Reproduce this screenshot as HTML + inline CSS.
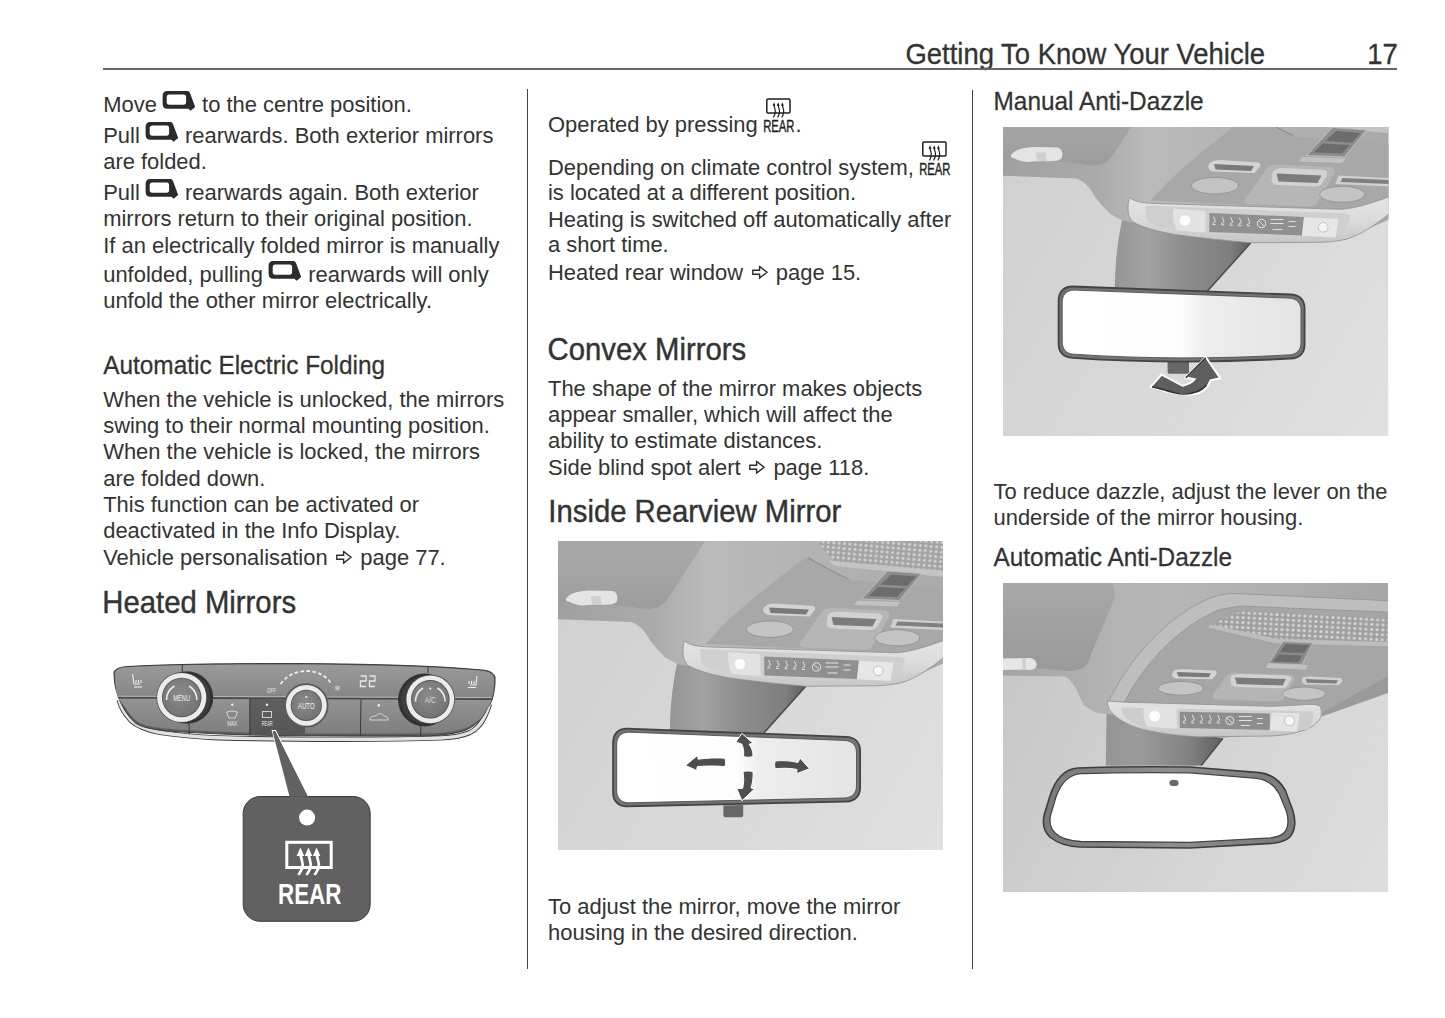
<!DOCTYPE html><html><head><meta charset="utf-8"><title>Getting To Know Your Vehicle</title><style>
*{margin:0;padding:0;box-sizing:border-box}
html,body{width:1445px;height:1018px;background:#fff;overflow:hidden}
body{position:relative;font-family:"Liberation Sans",sans-serif;color:#333333}
.ln{position:absolute;white-space:nowrap}
.ic{display:inline-block;vertical-align:baseline;position:relative;height:0}
.abs{position:absolute}
</style></head><body>
<div class="ln" style="left:905.5px;top:41.06px;font-size:27.45px;line-height:27.45px;transform:scaleY(1.045);transform-origin:0 22.44px;-webkit-text-stroke:0.3px #333333">Getting To Know Your Vehicle</div>
<div class="ln" style="left:1367.2px;top:41.06px;font-size:27.45px;line-height:27.45px;transform:scaleY(1.045);transform-origin:0 22.44px;-webkit-text-stroke:0.3px #333333">17</div>
<div class="abs" style="left:103px;top:67.9px;width:1294.3px;height:2px;background:#666"></div>
<div class="abs" style="left:527px;top:89px;width:1.2px;height:880px;background:#444"></div>
<div class="abs" style="left:972.2px;top:90px;width:1.2px;height:879px;background:#444"></div>
<div class="ln" style="left:103.2px;top:94.21px;font-size:21.95px;line-height:21.95px;transform:scaleY(1.035);transform-origin:0 17.79px">Move <span class="ic" style="width:33px"><svg style="position:absolute;left:-0.6px;bottom:0" width="35" height="21" viewBox="0 0 35 21"><path fill-rule="evenodd" fill="#2b2b2b" d="M5.4,0.6 H25.6 Q27.2,0.6 28,2.6 L33.2,16.2 L28.6,19.9 L26.4,17.8 H5.4 Q0.6,17.8 0.6,13 V5.4 Q0.6,0.6 5.4,0.6 Z M7.2,4.1 H21.6 Q24.1,4.1 24.1,6.6 V11.4 Q24.1,13.9 21.6,13.9 H7.2 Q4.7,13.9 4.7,11.4 V6.6 Q4.7,4.1 7.2,4.1 Z"/></svg></span> to the centre position.</div>
<div class="ln" style="left:103.2px;top:125.21px;font-size:21.95px;line-height:21.95px;transform:scaleY(1.035);transform-origin:0 17.79px">Pull <span class="ic" style="width:33px"><svg style="position:absolute;left:-0.6px;bottom:0" width="35" height="21" viewBox="0 0 35 21"><path fill-rule="evenodd" fill="#2b2b2b" d="M5.4,0.6 H25.6 Q27.2,0.6 28,2.6 L33.2,16.2 L28.6,19.9 L26.4,17.8 H5.4 Q0.6,17.8 0.6,13 V5.4 Q0.6,0.6 5.4,0.6 Z M7.2,4.1 H21.6 Q24.1,4.1 24.1,6.6 V11.4 Q24.1,13.9 21.6,13.9 H7.2 Q4.7,13.9 4.7,11.4 V6.6 Q4.7,4.1 7.2,4.1 Z"/></svg></span> rearwards. Both exterior mirrors</div>
<div class="ln" style="left:103.2px;top:151.21px;font-size:21.95px;line-height:21.95px;transform:scaleY(1.035);transform-origin:0 17.79px">are folded.</div>
<div class="ln" style="left:103.2px;top:181.71px;font-size:21.95px;line-height:21.95px;transform:scaleY(1.035);transform-origin:0 17.79px">Pull <span class="ic" style="width:33px"><svg style="position:absolute;left:-0.6px;bottom:0" width="35" height="21" viewBox="0 0 35 21"><path fill-rule="evenodd" fill="#2b2b2b" d="M5.4,0.6 H25.6 Q27.2,0.6 28,2.6 L33.2,16.2 L28.6,19.9 L26.4,17.8 H5.4 Q0.6,17.8 0.6,13 V5.4 Q0.6,0.6 5.4,0.6 Z M7.2,4.1 H21.6 Q24.1,4.1 24.1,6.6 V11.4 Q24.1,13.9 21.6,13.9 H7.2 Q4.7,13.9 4.7,11.4 V6.6 Q4.7,4.1 7.2,4.1 Z"/></svg></span> rearwards again. Both exterior</div>
<div class="ln" style="left:103.2px;top:208.41px;font-size:21.95px;line-height:21.95px;transform:scaleY(1.035);transform-origin:0 17.79px">mirrors return to their original position.</div>
<div class="ln" style="left:103.2px;top:234.71px;font-size:21.95px;line-height:21.95px;transform:scaleY(1.035);transform-origin:0 17.79px">If an electrically folded mirror is manually</div>
<div class="ln" style="left:103.2px;top:263.91px;font-size:21.95px;line-height:21.95px;transform:scaleY(1.035);transform-origin:0 17.79px">unfolded, pulling <span class="ic" style="width:33px"><svg style="position:absolute;left:-0.6px;bottom:0" width="35" height="21" viewBox="0 0 35 21"><path fill-rule="evenodd" fill="#2b2b2b" d="M5.4,0.6 H25.6 Q27.2,0.6 28,2.6 L33.2,16.2 L28.6,19.9 L26.4,17.8 H5.4 Q0.6,17.8 0.6,13 V5.4 Q0.6,0.6 5.4,0.6 Z M7.2,4.1 H21.6 Q24.1,4.1 24.1,6.6 V11.4 Q24.1,13.9 21.6,13.9 H7.2 Q4.7,13.9 4.7,11.4 V6.6 Q4.7,4.1 7.2,4.1 Z"/></svg></span> rearwards will only</div>
<div class="ln" style="left:103.2px;top:289.81px;font-size:21.95px;line-height:21.95px;transform:scaleY(1.035);transform-origin:0 17.79px">unfold the other mirror electrically.</div>
<div class="ln" style="left:103.2px;top:353.74px;font-size:24.4px;line-height:24.4px;transform:scaleY(1.03);transform-origin:0 19.86px;-webkit-text-stroke:0.25px #333333">Automatic Electric Folding</div>
<div class="ln" style="left:103.2px;top:388.81px;font-size:21.95px;line-height:21.95px;transform:scaleY(1.035);transform-origin:0 17.79px">When the vehicle is unlocked, the mirrors</div>
<div class="ln" style="left:103.2px;top:414.91px;font-size:21.95px;line-height:21.95px;transform:scaleY(1.035);transform-origin:0 17.79px">swing to their normal mounting position.</div>
<div class="ln" style="left:103.2px;top:441.21px;font-size:21.95px;line-height:21.95px;transform:scaleY(1.035);transform-origin:0 17.79px">When the vehicle is locked, the mirrors</div>
<div class="ln" style="left:103.2px;top:467.51px;font-size:21.95px;line-height:21.95px;transform:scaleY(1.035);transform-origin:0 17.79px">are folded down.</div>
<div class="ln" style="left:103.2px;top:494.01px;font-size:21.95px;line-height:21.95px;transform:scaleY(1.035);transform-origin:0 17.79px">This function can be activated or</div>
<div class="ln" style="left:103.2px;top:520.21px;font-size:21.95px;line-height:21.95px;transform:scaleY(1.035);transform-origin:0 17.79px">deactivated in the Info Display.</div>
<div class="ln" style="left:103.2px;top:546.71px;font-size:21.95px;line-height:21.95px;transform:scaleY(1.035);transform-origin:0 17.79px">Vehicle personalisation <span class="ic" style="width:20.5px"><svg style="position:absolute;left:2.6px;bottom:0.6px" width="17" height="13" viewBox="0 0 17 13"><path fill="none" stroke="#2b2b2b" stroke-width="1.4" stroke-linejoin="miter" d="M0.8,4.6 H7.6 V0.9 L15,6.5 L7.6,12.1 V8.4 H0.8 Z"/></svg></span> page 77.</div>
<div class="ln" style="left:102.3px;top:587.69px;font-size:29.3px;line-height:29.3px;transform:scaleY(1.055);transform-origin:0 24.01px;-webkit-text-stroke:0.4px #333333">Heated Mirrors</div>
<div class="ln" style="left:548.0px;top:113.61px;font-size:21.95px;line-height:21.95px;transform:scaleY(1.035);transform-origin:0 17.79px">Operated by pressing <span class="ic" style="width:31.6px"><svg style="position:absolute;left:-2.2px;bottom:-3px" width="40" height="36" viewBox="0 0 40 36"><rect x="4.8" y="1.1" width="23.2" height="13.5" rx="1.2" fill="none" stroke="#1e1e1e" stroke-width="1.5"/><g fill="none" stroke="#1e1e1e" stroke-width="1.2" stroke-linecap="round"><path d="M12,6.5 C12,9.5 13.8,11 13.3,14 C13,16 12.2,17.5 11.6,18.5"/><path d="M16.2,6.5 C16.2,9.5 18,11 17.5,14 C17.2,16 16.4,17.5 15.8,18.5"/><path d="M20.4,6.5 C20.4,9.5 22.2,11 21.7,14 C21.4,16 20.6,17.5 20,18.5"/></g><g fill="#1e1e1e"><path d="M10.6,7.6 L12,4.2 L13.4,7.6 Z"/><path d="M14.8,7.6 L16.2,4.2 L17.6,7.6 Z"/><path d="M19,7.6 L20.4,4.2 L21.8,7.6 Z"/></g><text x="1.2" y="33" font-family="Liberation Sans" font-size="15.4" fill="#1e1e1e" stroke="#1e1e1e" stroke-width="0.35" textLength="31.3" lengthAdjust="spacingAndGlyphs">REAR</text></svg></span>.</div>
<div class="ln" style="left:548.0px;top:156.91px;font-size:21.95px;line-height:21.95px;transform:scaleY(1.035);transform-origin:0 17.79px">Depending on climate control system, <span class="ic" style="width:40px"><svg style="position:absolute;left:-2.2px;bottom:-3px" width="40" height="36" viewBox="0 0 40 36"><rect x="4.8" y="1.1" width="23.2" height="13.5" rx="1.2" fill="none" stroke="#1e1e1e" stroke-width="1.5"/><g fill="none" stroke="#1e1e1e" stroke-width="1.2" stroke-linecap="round"><path d="M12,6.5 C12,9.5 13.8,11 13.3,14 C13,16 12.2,17.5 11.6,18.5"/><path d="M16.2,6.5 C16.2,9.5 18,11 17.5,14 C17.2,16 16.4,17.5 15.8,18.5"/><path d="M20.4,6.5 C20.4,9.5 22.2,11 21.7,14 C21.4,16 20.6,17.5 20,18.5"/></g><g fill="#1e1e1e"><path d="M10.6,7.6 L12,4.2 L13.4,7.6 Z"/><path d="M14.8,7.6 L16.2,4.2 L17.6,7.6 Z"/><path d="M19,7.6 L20.4,4.2 L21.8,7.6 Z"/></g><text x="1.2" y="33" font-family="Liberation Sans" font-size="15.4" fill="#1e1e1e" stroke="#1e1e1e" stroke-width="0.35" textLength="31.3" lengthAdjust="spacingAndGlyphs">REAR</text></svg></span></div>
<div class="ln" style="left:548.0px;top:182.11px;font-size:21.95px;line-height:21.95px;transform:scaleY(1.035);transform-origin:0 17.79px">is located at a different position.</div>
<div class="ln" style="left:548.0px;top:208.61px;font-size:21.95px;line-height:21.95px;transform:scaleY(1.035);transform-origin:0 17.79px">Heating is switched off automatically after</div>
<div class="ln" style="left:548.0px;top:234.41px;font-size:21.95px;line-height:21.95px;transform:scaleY(1.035);transform-origin:0 17.79px">a short time.</div>
<div class="ln" style="left:548.0px;top:261.51px;font-size:21.95px;line-height:21.95px;transform:scaleY(1.035);transform-origin:0 17.79px">Heated rear window <span class="ic" style="width:20.5px"><svg style="position:absolute;left:2.6px;bottom:0.6px" width="17" height="13" viewBox="0 0 17 13"><path fill="none" stroke="#2b2b2b" stroke-width="1.4" stroke-linejoin="miter" d="M0.8,4.6 H7.6 V0.9 L15,6.5 L7.6,12.1 V8.4 H0.8 Z"/></svg></span> page 15.</div>
<div class="ln" style="left:547.5px;top:334.89px;font-size:29.3px;line-height:29.3px;transform:scaleY(1.055);transform-origin:0 24.01px;-webkit-text-stroke:0.4px #333333">Convex Mirrors</div>
<div class="ln" style="left:548.0px;top:377.91px;font-size:21.95px;line-height:21.95px;transform:scaleY(1.035);transform-origin:0 17.79px">The shape of the mirror makes objects</div>
<div class="ln" style="left:548.0px;top:404.01px;font-size:21.95px;line-height:21.95px;transform:scaleY(1.035);transform-origin:0 17.79px">appear smaller, which will affect the</div>
<div class="ln" style="left:548.0px;top:429.91px;font-size:21.95px;line-height:21.95px;transform:scaleY(1.035);transform-origin:0 17.79px">ability to estimate distances.</div>
<div class="ln" style="left:548.0px;top:457.01px;font-size:21.95px;line-height:21.95px;transform:scaleY(1.035);transform-origin:0 17.79px">Side blind spot alert <span class="ic" style="width:20.5px"><svg style="position:absolute;left:2.6px;bottom:0.6px" width="17" height="13" viewBox="0 0 17 13"><path fill="none" stroke="#2b2b2b" stroke-width="1.4" stroke-linejoin="miter" d="M0.8,4.6 H7.6 V0.9 L15,6.5 L7.6,12.1 V8.4 H0.8 Z"/></svg></span> page 118.</div>
<div class="ln" style="left:548.3px;top:496.99px;font-size:29.3px;line-height:29.3px;transform:scaleY(1.055);transform-origin:0 24.01px;-webkit-text-stroke:0.4px #333333">Inside Rearview Mirror</div>
<div class="ln" style="left:548.0px;top:896.11px;font-size:21.95px;line-height:21.95px;transform:scaleY(1.035);transform-origin:0 17.79px">To adjust the mirror, move the mirror</div>
<div class="ln" style="left:548.0px;top:922.01px;font-size:21.95px;line-height:21.95px;transform:scaleY(1.035);transform-origin:0 17.79px">housing in the desired direction.</div>
<div class="ln" style="left:993.5px;top:89.94px;font-size:24.4px;line-height:24.4px;transform:scaleY(1.03);transform-origin:0 19.86px;-webkit-text-stroke:0.25px #333333">Manual Anti-Dazzle</div>
<div class="ln" style="left:993.5px;top:481.11px;font-size:21.95px;line-height:21.95px;transform:scaleY(1.035);transform-origin:0 17.79px">To reduce dazzle, adjust the lever on the</div>
<div class="ln" style="left:993.5px;top:507.01px;font-size:21.95px;line-height:21.95px;transform:scaleY(1.035);transform-origin:0 17.79px">underside of the mirror housing.</div>
<div class="ln" style="left:993.5px;top:545.94px;font-size:24.4px;line-height:24.4px;transform:scaleY(1.03);transform-origin:0 19.86px;-webkit-text-stroke:0.25px #333333">Automatic Anti-Dazzle</div>
<svg style="position:absolute;left:100px;top:650px" width="410" height="285" viewBox="100 650 410 285">
<defs>
<linearGradient id="cpTop" x1="0" y1="0" x2="0" y2="1"><stop offset="0" stop-color="#9a9a9a"/><stop offset="1" stop-color="#868686"/></linearGradient>
<linearGradient id="cpBot" x1="0" y1="0" x2="0" y2="1"><stop offset="0" stop-color="#949494"/><stop offset="1" stop-color="#7e7e7e"/></linearGradient>
<linearGradient id="cpRear" x1="0" y1="0" x2="0" y2="1"><stop offset="0" stop-color="#5e5e5e"/><stop offset="1" stop-color="#565656"/></linearGradient>
<radialGradient id="knobFace" cx="0.45" cy="0.4" r="0.6"><stop offset="0" stop-color="#8a8a8a"/><stop offset="1" stop-color="#747474"/></radialGradient>
</defs>
<!-- chrome trim -->
<path d="M119.2,700 C120.5,706 124,713 131,720.5 C137,726 145,729.5 160,732.5 C180,735.5 200,737 218,737.8 C260,739 300,739.3 340,739.3 C380,739.3 420,738.8 440,738 C455,737.5 463,735.5 470,732.5 C476,729.5 481,724 484.5,717 C486.5,713 488,709 489.6,704" fill="none" stroke="#3c3c3c" stroke-width="5.2"/>
<path d="M119.2,700 C120.5,706 124,713 131,720.5 C137,726 145,729.5 160,732.5 C180,735.5 200,737 218,737.8 C260,739 300,739.3 340,739.3 C380,739.3 420,738.8 440,738 C455,737.5 463,735.5 470,732.5 C476,729.5 481,724 484.5,717 C486.5,713 488,709 489.6,704" fill="none" stroke="#e2e2e2" stroke-width="3.4"/>
<!-- main body -->
<path d="M114,672 C115,669 120,667 128,666.5 C170,664 240,663.4 300,663.6 C380,664 440,666 484,670.2 C490,671 494,673 495,677 C495.5,685 494,693 492.3,699.3 C490.5,704 489,706 487.3,708 C484,716 481,719 478.4,721.4 C472,727.5 467,730 461.8,731.4 C450,734.5 440,735.4 428.6,735.8 C380,736.4 330,736 280,735.5 C240,735 220,734 201.3,733 C185,732.2 175,731.6 164,730.6 C150,729 142,727 136,723.5 C131,719.5 127,714 123.5,708 C121,703.5 119,699 117.5,694 C115,688 114,680 114,672 Z" fill="#5e5e5e" stroke="#3a3a3a" stroke-width="1"/>
<!-- top band -->
<path d="M115,673 C116,669 121,667.5 128,667 C170,664.8 240,664.3 300,664.5 C380,665 440,667 484,671 C489,672 493,674 494,678 C494.5,686 493.5,692 492,697.5 L117.5,696.5 C115.5,690 115,682 115,673 Z" fill="url(#cpTop)"/>
<!-- separation line -->
<path d="M117.5,696.2 L492,697.6" stroke="#b8b8b8" stroke-width="1"/>
<path d="M117.8,697.7 L491.8,699.1" stroke="#454545" stroke-width="1.1"/>
<!-- bottom band -->
<path d="M118.3,698.8 L491.6,700 C490,704.5 488.5,706.5 486.5,709 C483.5,716 480.5,719 477.5,721 C471,726 466,728.3 461,729.6 C450,732.3 440,733 428.6,733.3 C380,733.8 330,733.5 280,733 C240,732.5 220,731.6 201.3,730.7 C185,730 175,729.3 164,728.4 C151,727 143,725 137.5,721.8 C132.5,718 128.5,712.5 125,707 C122,703.5 120,701 118.3,698.8 Z" fill="url(#cpBot)"/>
<!-- REAR button dark -->
<path d="M249.8,699 L305,699.5 L305,735.5 L249.8,735.2 Z" fill="url(#cpRear)"/>
<path d="M249.8,699 L249.8,735.2" stroke="#333" stroke-width="0.9"/>
<!-- button separators -->
<path d="M361,699.5 L360.4,735.6" stroke="#3a3a3a" stroke-width="1"/>
<path d="M420.8,722 L420.6,735.8" stroke="#3a3a3a" stroke-width="1"/>
<path d="M189,722 L189.4,734.2" stroke="#3a3a3a" stroke-width="1"/>
<path d="M182.3,664 L182.3,672.5" stroke="#3a3a3a" stroke-width="1"/>
<path d="M428,666 L428,673" stroke="#3a3a3a" stroke-width="1"/>
<!-- MENU knob -->
<circle cx="187" cy="697.5" r="26.3" fill="#3e3e3e"/>
<circle cx="187" cy="697.5" r="24.5" fill="none" stroke="#222" stroke-width="2.2" stroke-dasharray="0.8 1.1"/>
<circle cx="181.7" cy="697.5" r="25.3" fill="#4a4a4a"/>
<circle cx="181.7" cy="697.5" r="24.6" fill="#ececec"/>
<circle cx="181.7" cy="697.5" r="19.8" fill="#555"/>
<circle cx="181.7" cy="697.5" r="18.9" fill="url(#knobFace)"/>
<path d="M166.5,700 A16,16 0 0 1 174.5,686" fill="none" stroke="#eee" stroke-width="1.6"/>
<path d="M188.9,686 A16,16 0 0 1 196.9,700" fill="none" stroke="#eee" stroke-width="1.6"/>
<text x="181.7" y="701" font-family="Liberation Sans" font-size="8.5" fill="#eee" text-anchor="middle" textLength="17" lengthAdjust="spacingAndGlyphs">MENU</text>
<!-- A/C knob -->
<circle cx="424.5" cy="700" r="26.5" fill="#3e3e3e"/>
<circle cx="424.5" cy="700" r="24.7" fill="none" stroke="#222" stroke-width="2.2" stroke-dasharray="0.8 1.1"/>
<circle cx="430.3" cy="699.3" r="24.6" fill="#4a4a4a"/>
<circle cx="430.3" cy="699.3" r="23.9" fill="#ececec"/>
<circle cx="430.3" cy="699.3" r="19.3" fill="#555"/>
<circle cx="430.3" cy="699.3" r="18.4" fill="url(#knobFace)"/>
<path d="M415.5,701.5 A15.5,15.5 0 0 1 423,688" fill="none" stroke="#eee" stroke-width="1.6"/>
<path d="M437.5,688 A15.5,15.5 0 0 1 445,701.5" fill="none" stroke="#eee" stroke-width="1.6"/>
<circle cx="430.3" cy="688.5" r="1.1" fill="#eee"/>
<text x="430.3" y="703" font-family="Liberation Sans" font-size="8.5" fill="#ddd" text-anchor="middle" textLength="11" lengthAdjust="spacingAndGlyphs">A/C</text>
<!-- AUTO knob -->
<circle cx="306.3" cy="705.4" r="22.2" fill="#5a5a5a"/>
<circle cx="306.3" cy="705.4" r="20.4" fill="#ececec"/>
<circle cx="306.3" cy="705.4" r="15.6" fill="#555"/>
<circle cx="306.3" cy="705.4" r="14.8" fill="url(#knobFace)"/>
<circle cx="306.3" cy="697" r="1.1" fill="#eee"/>
<text x="306.3" y="709" font-family="Liberation Sans" font-size="8.5" fill="#eee" text-anchor="middle" textLength="17" lengthAdjust="spacingAndGlyphs">AUTO</text>
<!-- dashed arc -->
<path d="M280.6,684 C288,674 298,671 306.7,671 C316,671 326,675 331.5,684" fill="none" stroke="#eee" stroke-width="1.8" stroke-dasharray="3.6 2.4"/>
<text x="271.5" y="692.5" font-family="Liberation Sans" font-size="7.5" fill="#e5e5e5" text-anchor="middle" textLength="9" lengthAdjust="spacingAndGlyphs">OFF</text>
<text x="337" y="691" font-family="Liberation Sans" font-size="8" fill="#ddd" text-anchor="middle">❄</text>
<!-- 22 -->
<g fill="none" stroke="#e8e8e8" stroke-width="1.3"><path d="M360.5,676 H366 V681 H360.5 V686.5 H366"/><path d="M369.5,676 H375 V681 H369.5 V686.5 H375"/></g>
<!-- seat icons -->
<g fill="none" stroke="#eee" stroke-width="1.1">
<path d="M132.5,674 L134,684 L140,684 M136,680 L136,683 M138.5,680 L138.5,683 M141,680 L141,683 M134,687 L142,687"/>
<path d="M477,676 L476,685 L470,685 M474,681 L474,684 M471.5,681 L471.5,684 M469,681 L469,684 M468,687.5 L476,687.5"/>
</g>
<!-- LEDs & small icons -->
<g fill="#eee">
<circle cx="232.2" cy="704.8" r="1.2"/>
<circle cx="267" cy="704.8" r="1.2"/>
<circle cx="378.8" cy="705.4" r="1.3"/>
</g>
<g fill="none" stroke="#ddd" stroke-width="0.9">
<path d="M226.5,712 Q232,710 237.5,712 L235,718 L229,718 Z"/>
<rect x="262.5" y="711.5" width="9" height="6"/>
<path d="M370,720 C370,716 374,716 376,716 C377,713 383,713 384,716 C387,716 388,718 388,720 Z"/>
</g>
<text x="232.2" y="726" font-family="Liberation Sans" font-size="6.5" fill="#e5e5e5" text-anchor="middle" textLength="10" lengthAdjust="spacingAndGlyphs">MAX</text>
<text x="267.2" y="726" font-family="Liberation Sans" font-size="6.5" fill="#e5e5e5" text-anchor="middle" textLength="11" lengthAdjust="spacingAndGlyphs">REAR</text>
<!-- pointer wedge -->
<path d="M272.3,730.5 L275.6,730.5 L308,797.5 L290,797.5 Z" fill="#5a5a5a" stroke="#fff" stroke-width="1.2"/>
<!-- callout box -->
<rect x="243.2" y="796.5" width="127" height="124.8" rx="17" fill="#616161" stroke="#3c3c3c" stroke-width="1"/>
<path d="M289.6,796.8 L272.6,731.5 L275.3,731.5 L308.1,796.8 Z" fill="#616161"/>
<circle cx="307.1" cy="817.6" r="8" fill="#fff"/>
<rect x="286.8" y="842.3" width="44.4" height="25.2" fill="none" stroke="#fff" stroke-width="3"/>
<g fill="none" stroke="#fff" stroke-width="2.7" stroke-linecap="butt">
<path d="M300.4,853 C300.4,858 303.5,862 302.5,867 C301.8,870.5 299.5,873 298.5,875"/>
<path d="M308.5,853 C308.5,858 311.6,862 310.6,867 C309.9,870.5 307.6,873 306.6,875"/>
<path d="M316.6,853 C316.6,858 319.7,862 318.7,867 C318,870.5 315.7,873 314.7,875"/>
</g>
<g fill="#fff">
<path d="M296.6,856 L300.4,847.5 L304.2,856 Z"/>
<path d="M304.7,856 L308.5,847.5 L312.3,856 Z"/>
<path d="M312.8,856 L316.6,847.5 L320.4,856 Z"/>
</g>
<text x="278" y="904.3" font-family="Liberation Sans" font-weight="bold" font-size="29.2" fill="#fff" textLength="63.3" lengthAdjust="spacingAndGlyphs">REAR</text>
</svg>

<svg style="position:absolute;left:557.5px;top:541px" width="385.5" height="309.0" viewBox="0 0 385.5 309.0"><defs><linearGradient id="cem" gradientUnits="userSpaceOnUse" x1="557" y1="0" x2="943" y2="0"><stop offset="0" stop-color="#a0a0a0"/><stop offset="0.24" stop-color="#aaaaaa"/><stop offset="0.38" stop-color="#bababa"/><stop offset="0.62" stop-color="#b4b4b4"/><stop offset="1" stop-color="#aaaaaa"/></linearGradient>
<linearGradient id="stm" gradientUnits="userSpaceOnUse" x1="668" y1="0" x2="806" y2="0"><stop offset="0" stop-color="#959595"/><stop offset="0.25" stop-color="#a2a2a2"/><stop offset="0.5" stop-color="#8e8e8e"/><stop offset="0.85" stop-color="#7e7e7e"/><stop offset="1" stop-color="#5e5e5e"/></linearGradient>
<linearGradient id="bzm" x1="0" y1="0" x2="0" y2="1"><stop offset="0" stop-color="#e4e4e4"/><stop offset="0.5" stop-color="#dcdcdc"/><stop offset="1" stop-color="#c6c6c6"/></linearGradient>
<linearGradient id="bgm" gradientUnits="userSpaceOnUse" x1="557" y1="620" x2="943" y2="850"><stop offset="0" stop-color="#d1d1d1"/><stop offset="0.5" stop-color="#d8d8d8"/><stop offset="1" stop-color="#e0e0e0"/></linearGradient>
<linearGradient id="glm" x1="0" y1="0" x2="1" y2="0"><stop offset="0" stop-color="#ffffff"/><stop offset="0.5" stop-color="#fdfdfd"/><stop offset="0.6" stop-color="#ededed"/><stop offset="1" stop-color="#e4e4e4"/></linearGradient>
<linearGradient id="vsm" gradientUnits="userSpaceOnUse" x1="0" y1="541" x2="0" y2="609"><stop offset="0" stop-color="#a8a8a8"/><stop offset="0.6" stop-color="#a3a3a3"/><stop offset="1" stop-color="#9c9c9c"/></linearGradient>
<pattern id="dtm" width="5.4" height="4.8" patternUnits="userSpaceOnUse" patternTransform="rotate(5)"><rect width="5.4" height="4.8" fill="#a4a4a4"/><circle cx="2.7" cy="2.4" r="1.5" fill="#d4d4d4"/></pattern><clipPath id="cpm"><rect x="0" y="0" width="385.5" height="309.0"/></clipPath></defs><g clip-path="url(#cpm)">
<g transform="translate(-557.5,-541.0)">
<rect x="557.5" y="541.0" width="385.5" height="309.0" fill="url(#bgm)"/>
<path d="M550,480 H950 V660 L900,683 L805.3,686.3 L757,740 L669.2,740 C669.5,712 671,690 676.6,664 C672,661 668,659.5 665,657.5 C659,652 654,646 649.3,640 C645,632 640,625 630.5,622 L550,619 Z" fill="url(#cem)"/>
<path d="M550,480 H730 L704.6,541 L668,597.7 C663,605 656,609 648.5,609 C640,609 630,606 619.5,605.6 L600,604.5 L550,602 Z" fill="url(#vsm)"/>
<path d="M806,557 L850,580 L950,588 V641 C925,647 910,651 896,652.8 L705,644 C718,630 730,617 745,605 C768,586 788,570 806,557 Z" fill="#a8a8a8"/>
<path d="M817.3,530 H950 V571.5 L836.2,561.6 C828,556 822,549 817.3,541 Z" fill="url(#dtm)"/>
<path d="M836.2,561.6 L950,571.5 V577.5 L838,566.5 C834,566 830,563 828,560 Z" fill="#c4c4c4"/>
<path d="M808,558 C822,566 834,573 848,579" fill="none" stroke="#8e8e8e" stroke-width="1.2"/>
<path d="M887,571 L921,573.5 L899,600.5 L861,599 Z" fill="#8c8c8c" stroke="#bdbdbd" stroke-width="1"/>
<path d="M891,574.5 L915.5,576.5 L906.5,586 L880,584.5 Z M877.5,587 L904.5,588.5 L896.5,597 L868,596 Z" fill="#6c6c6c"/>
<path d="M857,600.5 L900,602 L896.5,606.5 L853.5,605 Z" fill="#c2c2c2"/>
<path d="M822,611 C824,609 828,608 832,608 L884,610.5 C889,611 890,614 888,618 L872,646 C870,649 866,650 860,650 L803,647.5 C799,647 798,645 800,642 Z" fill="#b6b6b6"/>
<path d="M764,607 C766,604.5 770,603.5 775,603.5 L812,606 C815,606.5 815.5,608.5 814,610.5 L809,616.6 L768,615 C763,614 761,610 764,607 Z" fill="#d4d4d4"/>
<path d="M768.5,607.5 L808.5,609.5 L805.5,614.5 L770,613 Z" fill="#7a7a7a"/>
<path d="M827,616 C828.5,613 832,611.5 837,611.5 L877,613.5 C881.5,614 883,616.5 881,619.5 L876,627.5 C874.5,629.5 871,630 867,630 L832,628.5 C827,628 825,625 826.5,622 Z" fill="#d2d2d2"/>
<path d="M831,617 L876,619 L872,626.5 L833,625 Z" fill="#7c7c7c"/>
<path d="M893,619 L944,621.5 L944,630 L890,627.5 Z" fill="#d0d0d0"/>
<path d="M897,621.5 L944,623.5 L944,627.5 L895,625.5 Z" fill="#808080"/>
<ellipse cx="769.4" cy="629.2" rx="23.5" ry="8.2" fill="#c4c4c4" stroke="#8a8a8a" stroke-width="0.7"/>
<ellipse cx="896.7" cy="637.8" rx="22.5" ry="8" fill="#c4c4c4" stroke="#8a8a8a" stroke-width="0.7"/>
<path d="M676.6,664 L805.3,686.3 L757,740 L669.2,740 C669.5,712 671,690 676.6,664 Z" fill="url(#stm)"/>
<path d="M805.3,686.3 L757,740" stroke="#4e4e4e" stroke-width="1.6"/>
<path d="M684,641 C690,645.5 697,646.5 710,647 L896,652.8 C912,651.5 928,646 950,638 V652 C935,665 915,679 900.7,682.7 C890,685 880,686 870.8,685.8 L805.3,686.3 C780,684 750,681 729.2,678 C712,675 697,671 687.7,665.5 C684,662 682.5,658 682.5,652 C682.5,647 683,644 684,641 Z" fill="url(#bzm)" stroke="#8f8f8f" stroke-width="0.8"/>
<path d="M700,649 L900,657 C904,657.5 905,660 904,663 L899,678 L730,672.5 C710,671 702,667 700,660 Z" fill="#cfcfcf"/>
<path d="M763.8,656.5 L858.5,660.5 L856.5,679 L763.8,675.5 Z" fill="#909090"/>
<g fill="none" stroke="#e2e2e2" stroke-width="1"><path d="M768.0,660.0 l2,5 l-3,2 M767.0,668.0 h3" /><path d="M776.6,660.35 l2,5 l-3,2 M775.6,668.35 h3" /><path d="M785.2,660.7 l2,5 l-3,2 M784.2,668.7 h3" /><path d="M793.8,661.05 l2,5 l-3,2 M792.8,669.05 h3" /><path d="M802.4,661.4 l2,5 l-3,2 M801.4,669.4 h3" /><circle cx="816" cy="667" r="4.2"/><path d="M813,664 L819,670"/><path d="M825,663 h13 M825,667 h13 M827,673 h10 M843,665 h7 M843,670 h7"/></g>
<path d="M728,652 L760,654.5 L760,676 L732,674 C728,670 727,660 728,652 Z" fill="#e2e2e2"/>
<circle cx="739.5" cy="664" r="5.3" fill="#fcfcfc"/>
<path d="M858.5,660.8 L893,662.5 L890,681 L856.5,679.3 Z" fill="#e6e6e6"/>
<circle cx="877.7" cy="670.8" r="4.8" fill="#f6f6f6" stroke="#a8a8a8" stroke-width="0.6"/>
<path d="M566.5,597.5 C571,592.5 579,590.5 592,590.5 L612,591 C617,592 618,598 616,602 C613,605 607,605 597,604.5 L587,605 C582,606 575,605 569,602 C565,601 564.5,599.5 566.5,597.5 Z" fill="#e4e4e4"/>
<path d="M590,596 L600,596 L601,604.5 L592,605 Z" fill="#d0d0d0"/>
<path d="M722.9,805.5 L742.7,805 L742.7,815 C742.7,817 741.5,817.3 739.5,817.3 L726,817.3 C724,817.3 722.9,817 722.9,815 Z" fill="#676767"/>
<path d="M626.6,728.6 L845.6,736.8 C854.7,737.1 859.6,742.4 859.6,750.8 L859.6,787.6 C859.6,796.0 854.7,801.3 845.6,801.6 L626.6,806.4 C617.5,806.5 612.6,800.8 612.6,792.4 L612.6,742.6 C612.6,734.2 617.5,728.5 626.6,728.6 Z" fill="#747474" stroke="#444" stroke-width="1.8"/><path d="M628.4,732.2 L843.8,740.4 C851.7,740.7 856.0,745.3 856.0,752.6 L856.0,785.8 C856.0,793.1 851.7,797.7 843.8,798.0 L628.4,802.8 C620.5,802.9 616.2,797.9 616.2,790.6 L616.2,744.4 C616.2,737.1 620.5,732.1 628.4,732.2 Z" fill="url(#glm)" stroke="#505050" stroke-width="0.9"/>
<path d="M724.3,758.2 C716,757.6 706,758 697.6,759.2 L697.1,755.4 L685,765.4 L696,770.4 L696.8,766.6 C705,765.8 716,765.8 724.3,766.6 C725.3,764 725.3,761 724.3,758.2 Z" fill="#4e4e4e" stroke="#fff" stroke-width="1" stroke-linejoin="round"/>
<path d="M774.7,761 C782,760.2 790,760.6 797.5,762.5 L799.6,758.2 L809,768.7 L796.2,773.7 L796.5,769.5 C789,767.8 782,768.2 774.7,768.7 C773.9,766 773.9,763.5 774.7,761 Z" fill="#4e4e4e" stroke="#fff" stroke-width="1" stroke-linejoin="round"/>
<path d="M743,756.5 C743.6,751.5 743,747.5 741.2,744 L735.3,742.1 L741.4,733.3 L752.5,743.3 L748.6,744.2 C751.5,748 752.6,752 752.5,756.5 C749.4,757.5 746.2,757.5 743,756.5 Z" fill="#4e4e4e" stroke="#fff" stroke-width="1" stroke-linejoin="round"/>
<path d="M742.5,771.5 C745.8,770.8 749.2,770.8 752.5,771.5 C753,777.5 752,783 750.5,788 L754.2,788.7 L741.4,800.8 L736.4,788.7 L742.2,788.3 C743.5,783 743.5,777.5 742.5,771.5 Z" fill="#4e4e4e" stroke="#fff" stroke-width="1" stroke-linejoin="round"/>
</g></g></svg>
<svg style="position:absolute;left:1003.4px;top:126.7px" width="385.5" height="309.0" viewBox="0 0 385.5 309.0"><defs><linearGradient id="cer1" gradientUnits="userSpaceOnUse" x1="557" y1="0" x2="943" y2="0"><stop offset="0" stop-color="#a0a0a0"/><stop offset="0.24" stop-color="#aaaaaa"/><stop offset="0.38" stop-color="#bababa"/><stop offset="0.62" stop-color="#b4b4b4"/><stop offset="1" stop-color="#aaaaaa"/></linearGradient>
<linearGradient id="str1" gradientUnits="userSpaceOnUse" x1="668" y1="0" x2="806" y2="0"><stop offset="0" stop-color="#959595"/><stop offset="0.25" stop-color="#a2a2a2"/><stop offset="0.5" stop-color="#8e8e8e"/><stop offset="0.85" stop-color="#7e7e7e"/><stop offset="1" stop-color="#5e5e5e"/></linearGradient>
<linearGradient id="bzr1" x1="0" y1="0" x2="0" y2="1"><stop offset="0" stop-color="#e4e4e4"/><stop offset="0.5" stop-color="#dcdcdc"/><stop offset="1" stop-color="#c6c6c6"/></linearGradient>
<linearGradient id="bgr1" gradientUnits="userSpaceOnUse" x1="557" y1="620" x2="943" y2="850"><stop offset="0" stop-color="#d1d1d1"/><stop offset="0.5" stop-color="#d8d8d8"/><stop offset="1" stop-color="#e0e0e0"/></linearGradient>
<linearGradient id="glr1" x1="0" y1="0" x2="1" y2="0"><stop offset="0" stop-color="#ffffff"/><stop offset="0.5" stop-color="#fdfdfd"/><stop offset="0.6" stop-color="#ededed"/><stop offset="1" stop-color="#e4e4e4"/></linearGradient>
<linearGradient id="vsr1" gradientUnits="userSpaceOnUse" x1="0" y1="541" x2="0" y2="609"><stop offset="0" stop-color="#a8a8a8"/><stop offset="0.6" stop-color="#a3a3a3"/><stop offset="1" stop-color="#9c9c9c"/></linearGradient>
<pattern id="dtr1" width="5.4" height="4.8" patternUnits="userSpaceOnUse" patternTransform="rotate(5)"><rect width="5.4" height="4.8" fill="#a4a4a4"/><circle cx="2.7" cy="2.4" r="1.5" fill="#d4d4d4"/></pattern><clipPath id="cpr1"><rect x="0" y="0" width="385.5" height="309.0"/></clipPath></defs><g clip-path="url(#cpr1)">
<g transform="translate(-1003.4,-126.7)">
<g transform="translate(445.9,-443.8)">
<rect x="557.5" y="541.0" width="385.5" height="349.0" fill="url(#bgr1)"/>
<path d="M550,480 H950 V660 L900,683 L805.3,686.3 L757,740 L669.2,740 C669.5,712 671,690 676.6,664 C672,661 668,659.5 665,657.5 C659,652 654,646 649.3,640 C645,632 640,625 630.5,622 L550,619 Z" fill="url(#cer1)"/>
<path d="M550,480 H730 L704.6,541 L668,597.7 C663,605 656,609 648.5,609 C640,609 630,606 619.5,605.6 L600,604.5 L550,602 Z" fill="url(#vsr1)"/>
<path d="M806,557 L850,580 L950,588 V641 C925,647 910,651 896,652.8 L705,644 C718,630 730,617 745,605 C768,586 788,570 806,557 Z" fill="#a8a8a8"/>
<path d="M817.3,530 H950 V571.5 L836.2,561.6 C828,556 822,549 817.3,541 Z" fill="url(#dtr1)"/>
<path d="M836.2,561.6 L950,571.5 V577.5 L838,566.5 C834,566 830,563 828,560 Z" fill="#c4c4c4"/>
<path d="M808,558 C822,566 834,573 848,579" fill="none" stroke="#8e8e8e" stroke-width="1.2"/>
<path d="M887,571 L921,573.5 L899,600.5 L861,599 Z" fill="#8c8c8c" stroke="#bdbdbd" stroke-width="1"/>
<path d="M891,574.5 L915.5,576.5 L906.5,586 L880,584.5 Z M877.5,587 L904.5,588.5 L896.5,597 L868,596 Z" fill="#6c6c6c"/>
<path d="M857,600.5 L900,602 L896.5,606.5 L853.5,605 Z" fill="#c2c2c2"/>
<path d="M822,611 C824,609 828,608 832,608 L884,610.5 C889,611 890,614 888,618 L872,646 C870,649 866,650 860,650 L803,647.5 C799,647 798,645 800,642 Z" fill="#b6b6b6"/>
<path d="M764,607 C766,604.5 770,603.5 775,603.5 L812,606 C815,606.5 815.5,608.5 814,610.5 L809,616.6 L768,615 C763,614 761,610 764,607 Z" fill="#d4d4d4"/>
<path d="M768.5,607.5 L808.5,609.5 L805.5,614.5 L770,613 Z" fill="#7a7a7a"/>
<path d="M827,616 C828.5,613 832,611.5 837,611.5 L877,613.5 C881.5,614 883,616.5 881,619.5 L876,627.5 C874.5,629.5 871,630 867,630 L832,628.5 C827,628 825,625 826.5,622 Z" fill="#d2d2d2"/>
<path d="M831,617 L876,619 L872,626.5 L833,625 Z" fill="#7c7c7c"/>
<path d="M893,619 L944,621.5 L944,630 L890,627.5 Z" fill="#d0d0d0"/>
<path d="M897,621.5 L944,623.5 L944,627.5 L895,625.5 Z" fill="#808080"/>
<ellipse cx="769.4" cy="629.2" rx="23.5" ry="8.2" fill="#c4c4c4" stroke="#8a8a8a" stroke-width="0.7"/>
<ellipse cx="896.7" cy="637.8" rx="22.5" ry="8" fill="#c4c4c4" stroke="#8a8a8a" stroke-width="0.7"/>
<path d="M676.6,664 L805.3,686.3 L757,740 L669.2,740 C669.5,712 671,690 676.6,664 Z" fill="url(#str1)"/>
<path d="M805.3,686.3 L757,740" stroke="#4e4e4e" stroke-width="1.6"/>
<path d="M684,641 C690,645.5 697,646.5 710,647 L896,652.8 C912,651.5 928,646 950,638 V652 C935,665 915,679 900.7,682.7 C890,685 880,686 870.8,685.8 L805.3,686.3 C780,684 750,681 729.2,678 C712,675 697,671 687.7,665.5 C684,662 682.5,658 682.5,652 C682.5,647 683,644 684,641 Z" fill="url(#bzr1)" stroke="#8f8f8f" stroke-width="0.8"/>
<path d="M700,649 L900,657 C904,657.5 905,660 904,663 L899,678 L730,672.5 C710,671 702,667 700,660 Z" fill="#cfcfcf"/>
<path d="M763.8,656.5 L858.5,660.5 L856.5,679 L763.8,675.5 Z" fill="#909090"/>
<g fill="none" stroke="#e2e2e2" stroke-width="1"><path d="M768.0,660.0 l2,5 l-3,2 M767.0,668.0 h3" /><path d="M776.6,660.35 l2,5 l-3,2 M775.6,668.35 h3" /><path d="M785.2,660.7 l2,5 l-3,2 M784.2,668.7 h3" /><path d="M793.8,661.05 l2,5 l-3,2 M792.8,669.05 h3" /><path d="M802.4,661.4 l2,5 l-3,2 M801.4,669.4 h3" /><circle cx="816" cy="667" r="4.2"/><path d="M813,664 L819,670"/><path d="M825,663 h13 M825,667 h13 M827,673 h10 M843,665 h7 M843,670 h7"/></g>
<path d="M728,652 L760,654.5 L760,676 L732,674 C728,670 727,660 728,652 Z" fill="#e2e2e2"/>
<circle cx="739.5" cy="664" r="5.3" fill="#fcfcfc"/>
<path d="M858.5,660.8 L893,662.5 L890,681 L856.5,679.3 Z" fill="#e6e6e6"/>
<circle cx="877.7" cy="670.8" r="4.8" fill="#f6f6f6" stroke="#a8a8a8" stroke-width="0.6"/>
<path d="M566.5,597.5 C571,592.5 579,590.5 592,590.5 L612,591 C617,592 618,598 616,602 C613,605 607,605 597,604.5 L587,605 C582,606 575,605 569,602 C565,601 564.5,599.5 566.5,597.5 Z" fill="#e4e4e4"/>
<path d="M590,596 L600,596 L601,604.5 L592,605 Z" fill="#d0d0d0"/>
</g>
<path d="M1168,361 L1189.4,360.5 L1189.4,371.5 C1189.4,373.3 1188.4,373.5 1186.6,373.5 L1170.8,373.5 C1169,373.5 1168,373.3 1168,371.5 Z" fill="#676767"/>
<path d="M1073.0,286.2 L1291.0,294.2 C1300.1,294.5 1305.0,299.8 1305.0,308.2 L1305.0,344.2 C1305.0,352.6 1300.1,357.9 1291.0,358.2 C1221.0,362.3 1143.0,362.3 1073.0,357.5 C1063.9,357.6 1059.0,351.9 1059.0,343.5 L1059.0,300.2 C1059.0,291.8 1063.9,286.1 1073.0,286.2 Z" fill="#747474" stroke="#444" stroke-width="1.8"/><path d="M1074.8,289.8 L1289.2,297.8 C1297.1,298.1 1301.4,302.7 1301.4,310.0 L1301.4,342.4 C1301.4,349.7 1297.1,354.3 1289.2,354.6 C1219.2,358.7 1144.8,358.7 1074.8,353.9 C1066.9,354.0 1062.6,349.0 1062.6,341.7 L1062.6,302.0 C1062.6,294.7 1066.9,289.7 1074.8,289.8 Z" fill="url(#glr1)" stroke="#505050" stroke-width="0.9"/>
<path d="M1151.3,386.4 L1162,374.3 L1183,385.5 C1189,384 1193,382 1195,379 L1186.3,377.3 L1206.1,356.7 L1220.6,378 L1211,380 C1208,388 1202,393 1194,394 C1185,394.5 1175,393.5 1168,391.8 C1162,390 1157,387.5 1151.3,386.4 Z" fill="#5e5e5e" stroke="#fff" stroke-width="2"/><path d="M1162,374.3 L1183,385.5" stroke="#f4f4f4" stroke-width="1.2"/><path d="M1186.3,377.5 L1206.1,357.5" stroke="#333" stroke-width="1.6"/><path d="M1152.5,386.6 C1160,387.5 1170,392 1180,393.5 C1190,394.5 1200,392 1207,385" fill="none" stroke="#333" stroke-width="1.6"/>
</g></g></svg>
<svg style="position:absolute;left:1003.2px;top:582.5px" width="385" height="309" viewBox="0 0 385 309"><defs>
<linearGradient id="bgr2" gradientUnits="userSpaceOnUse" x1="1003" y1="700" x2="1388" y2="891"><stop offset="0" stop-color="#c8c8c8"/><stop offset="0.6" stop-color="#d6d6d6"/><stop offset="1" stop-color="#dddddd"/></linearGradient>
<linearGradient id="cer2" gradientUnits="userSpaceOnUse" x1="1003" y1="0" x2="1388" y2="0"><stop offset="0" stop-color="#a4a4a4"/><stop offset="0.3" stop-color="#b4b4b4"/><stop offset="0.45" stop-color="#b6b6b6"/><stop offset="1" stop-color="#a6a6a6"/></linearGradient>
<linearGradient id="vir2" x1="0" y1="0" x2="0" y2="1"><stop offset="0" stop-color="#a9a9a9"/><stop offset="1" stop-color="#9a9a9a"/></linearGradient>
<linearGradient id="str2" gradientUnits="userSpaceOnUse" x1="1105" y1="0" x2="1224" y2="0"><stop offset="0" stop-color="#959595"/><stop offset="0.3" stop-color="#9a9a9a"/><stop offset="0.7" stop-color="#828282"/><stop offset="1" stop-color="#5e5e5e"/></linearGradient>
<linearGradient id="bzr2" x1="0" y1="0" x2="0" y2="1"><stop offset="0" stop-color="#e2e2e2"/><stop offset="0.5" stop-color="#dadada"/><stop offset="1" stop-color="#c4c4c4"/></linearGradient>
<linearGradient id="rimr2" x1="0" y1="0" x2="1" y2="0"><stop offset="0" stop-color="#7a7a7a"/><stop offset="0.5" stop-color="#8e8e8e"/><stop offset="1" stop-color="#7a7a7a"/></linearGradient>
<pattern id="dtr2" width="5.6" height="4.9" patternUnits="userSpaceOnUse" patternTransform="rotate(3)"><rect width="5.6" height="4.9" fill="#a0a0a0"/><circle cx="2.8" cy="2.45" r="1.55" fill="#d6d6d6"/></pattern>
<clipPath id="cpr2"><rect x="0" y="0" width="385" height="309"/></clipPath></defs>
<g clip-path="url(#cpr2)"><g transform="translate(-1003.2,-582.5)">
<rect x="1003.2" y="582.5" width="385" height="309" fill="url(#bgr2)"/>
<path d="M995,570 H1395 V686 L1322,712 L1223,738 L1201.5,765 L1106,765 L1106.6,713.2 C1100,713 1097,712.5 1095.5,711.7 C1090,709 1087,706 1084.3,705.3 C1080,698 1078,690 1074.8,686.2 C1071,680 1068,676.5 1063.6,675.9 L995,675 Z" fill="url(#cer2)"/>
<path d="M1320,706 L1395,650 V686 L1322,712 Z" fill="#9c9c9c"/>
<path d="M995,575 H1100 C1110,575 1117,585 1114.6,598 L1088,662 C1085,668 1078,671 1068,670.5 L1036.6,667.4 L995,668.5 Z" fill="url(#vir2)"/>
<path d="M1003,658 L1030,657.6 C1036,658.5 1038,663 1036,667 C1034,669.5 1030,669.5 1024,669 L1003,669.5 Z" fill="#e6e6e6"/>
<path d="M1022,658 L1026,658 L1026,669 L1023,669 Z" fill="#cfcfcf"/>
<path d="M1124,703 C1142,666 1178,626 1220,609 L1240,605.5 L1395,612 V688 L1322,712 L1250,712 L1140,706 Z" fill="#a6a6a6"/>
<path d="M1109,701 C1128,660 1168,614 1212,597 C1220,594 1228,593 1236,593 L1395,600.5 V612 L1240,605.5 L1220,609 C1178,626 1142,666 1124,703 Z" fill="#bebebe" stroke="#939393" stroke-width="0.8"/>
<path d="M1322,712 L1395,672 V690 L1322,716 Z" fill="#9a9a9a"/>
<path d="M1210.7,624.1 L1242.5,610.6 L1395,617.8 V641.8 L1277.5,638.5 Z" fill="url(#dtr2)"/>
<path d="M1210.7,624.1 L1277.5,638.5 L1395,641.8 V646 L1276,643 L1208,627 Z" fill="#bdbdbd"/>
<path d="M1283,641 L1313,642.5 L1302,664 L1269,663 Z" fill="#8a8a8a" stroke="#bdbdbd" stroke-width="0.8"/>
<path d="M1286,643.5 L1309.5,644.8 L1304,652.5 L1280,651.5 Z M1278.5,654 L1302.5,655 L1298.5,662 L1273.5,661 Z" fill="#6c6c6c"/>
<path d="M1268,663 L1308,664.5 L1306,669 L1266,667.5 Z" fill="#c2c2c2"/>
<path d="M1226,676 C1228,673.5 1232,672.5 1237,672.5 L1290,674.5 C1295,675 1296,678 1293,682 L1284,698 C1282,700.5 1278,701 1272,701 L1218,699 C1213,698.5 1212,696 1214,693 Z" fill="#b5b5b5"/>
<path d="M1172.8,672 C1174,669.5 1178,668.8 1183,668.8 L1214,670 C1217,670.5 1217.5,672.5 1216,674.5 L1212.5,678.8 L1177,678 C1172.5,677.3 1171.5,674.5 1172.8,672 Z" fill="#d4d4d4"/>
<path d="M1177,671.5 L1211,672.8 L1209,676.8 L1178.5,676 Z" fill="#7a7a7a"/>
<path d="M1231,676 C1232.5,674 1236,673.4 1240,673.4 L1287,675 C1291.5,675.5 1292.5,678 1290.5,680.5 L1287,686 C1285.5,687.5 1282,687.8 1278,687.8 L1237,686.5 C1232,686 1230,683.5 1231,681 Z" fill="#d2d2d2"/>
<path d="M1235,677 L1286,678.5 L1283,685 L1237,683.5 Z" fill="#7c7c7c"/>
<path d="M1302.3,678 C1303,676.5 1306,676 1310,676 L1340,677.5 C1343,678 1343,680 1341.5,682 L1339,684.5 L1306,684 C1302.5,683.5 1301.5,680 1302.3,678 Z" fill="#d0d0d0"/>
<path d="M1306,678.5 L1338,679.8 L1336.5,683 L1307,682.2 Z" fill="#808080"/>
<ellipse cx="1180.9" cy="687.8" rx="22.5" ry="6.8" fill="#c4c4c4" stroke="#8a8a8a" stroke-width="0.7"/>
<ellipse cx="1304.1" cy="693.2" rx="21.5" ry="6.6" fill="#c4c4c4" stroke="#8a8a8a" stroke-width="0.7"/>
<path d="M1107,713 L1223,738 L1201.5,765 L1106,765 Z" fill="url(#str2)"/>
<path d="M1223,738 L1201.5,765" stroke="#4e4e4e" stroke-width="1.5"/>
<path d="M1108,700.4 C1120,701.5 1130,702 1144,702.2 L1270,705.8 C1285,705.5 1298,704.5 1306,704 C1313,703.8 1318,704 1320.3,705.8 C1322,709 1322,714 1320.3,718.4 C1316,724 1312,727 1306,729.2 C1296,732.5 1285,735 1270,735.5 L1198,736.4 C1175,735 1158,732.5 1144,729.2 C1128,725 1116,718 1109.8,709.4 C1108,706 1107.5,703 1108,700.4 Z" fill="url(#bzr2)" stroke="#8f8f8f" stroke-width="0.8"/>
<path d="M1122,707 L1312,711 C1314,712 1314,715 1313,718 L1309,729 L1150,727 C1135,725 1125,718 1122,712 Z" fill="#cdcdcd"/>
<path d="M1180,711.2 L1270,713 L1270,729.5 L1180,727.5 Z" fill="#8d8d8d"/>
<g fill="none" stroke="#e2e2e2" stroke-width="1"><path d="M1184.0,714.5 l2,5 l-3,2 M1183.0,722.5 h3" /><path d="M1192.5,714.5 l2,5 l-3,2 M1191.5,722.5 h3" /><path d="M1201.0,714.5 l2,5 l-3,2 M1200.0,722.5 h3" /><path d="M1209.5,714.5 l2,5 l-3,2 M1208.5,722.5 h3" /><path d="M1218.0,714.5 l2,5 l-3,2 M1217.0,722.5 h3" /><circle cx="1230" cy="720" r="4"/><path d="M1227,717 L1233,723"/><path d="M1239,716 h13 M1239,720 h13 M1241,725 h9 M1257,718 h6 M1257,723 h6"/></g>
<path d="M1144,705.5 L1177,707 L1177,728 L1148,726.5 C1144,722 1143,712 1144,705.5 Z" fill="#e2e2e2"/>
<circle cx="1154.8" cy="715.7" r="5.5" fill="#fcfcfc"/>
<path d="M1272,712 L1300,713 L1297,731 L1270,730 Z" fill="#e4e4e4"/>
<circle cx="1289.7" cy="720.2" r="5" fill="#f6f6f6" stroke="#a8a8a8" stroke-width="0.6"/>
<path d="M1078,767.5 C1110,766.2 1150,766 1190,766.5 L1259.7,772.1 C1272,773.5 1280,780 1285.6,790 L1293,810 C1296,819 1296,830 1290,836.5 C1286,840.5 1281,841.8 1274,842.8 L1190,847.5 L1080,846.5 C1068,846 1058,843 1050,836.5 C1044,830.5 1042.5,822 1044.5,814 L1050,796 C1055,780 1064,768.5 1078,767.5 Z" fill="url(#rimr2)" stroke="#3e3e3e" stroke-width="1.6"/>
<path d="M1081,773.2 C1112,772 1150,771.8 1190,772.3 L1257,777.8 C1267,779 1274.5,784.5 1279.5,793.5 L1286.5,810.5 C1289,818 1289,827 1284.5,832 C1281.5,835.2 1277,836.5 1271,837.3 L1190,841.8 L1081,841 C1070,840.6 1061.5,838.3 1055.5,832.8 C1050.5,827.8 1049.3,821 1050.8,814.5 L1056,797 C1060.5,784 1069,774 1081,773.2 Z" fill="#ffffff" stroke="#454545" stroke-width="1.3"/>
<ellipse cx="1174.2" cy="782.4" rx="4.6" ry="3.2" fill="#6a6a6a"/>
</g></g></svg>
</body></html>
